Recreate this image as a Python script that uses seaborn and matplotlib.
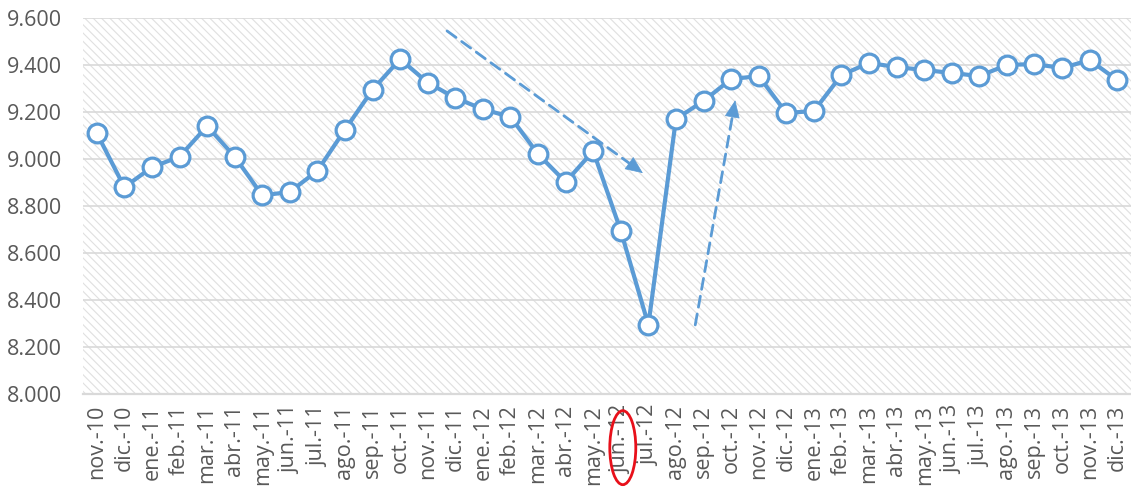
import matplotlib
matplotlib.use("Agg")
import matplotlib.pyplot as plt
from matplotlib.patches import Rectangle, Ellipse
from matplotlib.ticker import FuncFormatter
import seaborn as sns
import pandas as pd

# Monthly series, Nov 2010 - Dec 2013
months = [
    "nov.-10", "dic.-10",
    "ene.-11", "feb.-11", "mar.-11", "abr.-11", "may.-11", "jun.-11",
    "jul.-11", "ago.-11", "sep.-11", "oct.-11", "nov.-11", "dic.-11",
    "ene.-12", "feb.-12", "mar.-12", "abr.-12", "may.-12", "jun.-12",
    "jul.-12", "ago.-12", "sep.-12", "oct.-12", "nov.-12", "dic.-12",
    "ene.-13", "feb.-13", "mar.-13", "abr.-13", "may.-13", "jun.-13",
    "jul.-13", "ago.-13", "sep.-13", "oct.-13", "nov.-13", "dic.-13",
]
values = [
    9110, 8880,
    8965, 9010, 9140, 9010, 8845, 8860,
    8950, 9125, 9295, 9425, 9325, 9260,
    9212, 9179, 9021, 8902, 9034, 8694,
    8294, 9170, 9247, 9340, 9353, 9196,
    9204, 9357, 9409, 9391, 9379, 9366,
    9353, 9400, 9404, 9387, 9421, 9336,
]
y_ticks = [8000, 8200, 8400, 8600, 8800, 9000, 9200, 9400, 9600]

# Trend arrows (month index, value)
down_start, down_end = (12.7, 9545), (19.8, 8940)
up_start, up_end = (21.7, 8294), (23.15, 9250)
highlight_label = "jun.-12"

BLUE = "#5B9BD5"
GRID = "#D9D9D9"
TEXT = "#595959"

sns.set_style("white")
plt.rcParams["font.family"] = ["Open Sans", "DejaVu Sans"]
plt.rcParams["hatch.linewidth"] = 0.8

df = pd.DataFrame({"idx": range(len(months)), "value": values})

fig = plt.figure(figsize=(11.31, 4.90), dpi=100)
ax = fig.add_axes([83 / 1131, 1 - 394 / 490, 1 - 83 / 1131, (394 - 18) / 490])

# Hatched plot background
bg = Rectangle((0, 0), 1, 1, transform=ax.transAxes, fill=False,
               hatch="\\\\\\\\", edgecolor="#E0E0E0", lw=0, zorder=0)
ax.add_patch(bg)

sns.lineplot(data=df, x="idx", y="value", ax=ax, color=BLUE, lw=3.0,
             marker="o", markersize=13.5, markerfacecolor="white",
             markeredgecolor=BLUE, markeredgewidth=2.3, zorder=5)

ax.set_xlim(-0.5, len(months) - 0.5)
ax.set_ylim(y_ticks[0], y_ticks[-1])
ax.set_yticks(y_ticks)
ax.yaxis.set_major_formatter(FuncFormatter(lambda v, p: f"{v:,.0f}".replace(",", ".")))
ax.set_xticks(range(len(months)))
ax.set_xticklabels(months, rotation=90)
ax.set_xlabel("")
ax.set_ylabel("")

ax.grid(axis="y", color=GRID, lw=1.2, zorder=1)
ax.grid(axis="x", visible=False)
ax.set_axisbelow(True)
for s in ["left", "right", "top"]:
    ax.spines[s].set_visible(False)
ax.spines["bottom"].set_color(GRID)
ax.spines["bottom"].set_linewidth(1.6)
ax.tick_params(axis="y", length=0, pad=15, labelsize=15.5, labelcolor=TEXT)
ax.tick_params(axis="x", length=0, pad=8, labelsize=15.5, labelcolor=TEXT)


def trend_arrow(start, end):
    ax.annotate("", xy=end, xytext=start,
                arrowprops=dict(arrowstyle="-", lw=2.0, ls=(0, (4, 2.5)),
                                color=BLUE, shrinkA=0, shrinkB=8),
                zorder=4)
    fx = start[0] + (end[0] - start[0]) * 0.95
    fy = start[1] + (end[1] - start[1]) * 0.95
    ax.annotate("", xy=end, xytext=(fx, fy),
                arrowprops=dict(arrowstyle="-|>,head_length=1.15,head_width=0.5",
                                lw=0.5, color=BLUE, shrinkA=0, shrinkB=0),
                zorder=4)


trend_arrow(down_start, down_end)
trend_arrow(up_start, up_end)

# Mark the June 2012 label
fig.canvas.draw()
lab = [t for t in ax.get_xticklabels() if t.get_text() == highlight_label][0]
bb = lab.get_window_extent()
cx = ((bb.x0 + bb.x1) / 2 + 2) / fig.bbox.width
cy = ((bb.y0 + bb.y1) / 2 - 8) / fig.bbox.height
fig.patches.append(Ellipse((cx, cy), 26 / 1131, 74 / 490, transform=fig.transFigure,
                           fill=False, edgecolor="#E8101A", lw=2.0))

fig.savefig("out.png", dpi=100)
